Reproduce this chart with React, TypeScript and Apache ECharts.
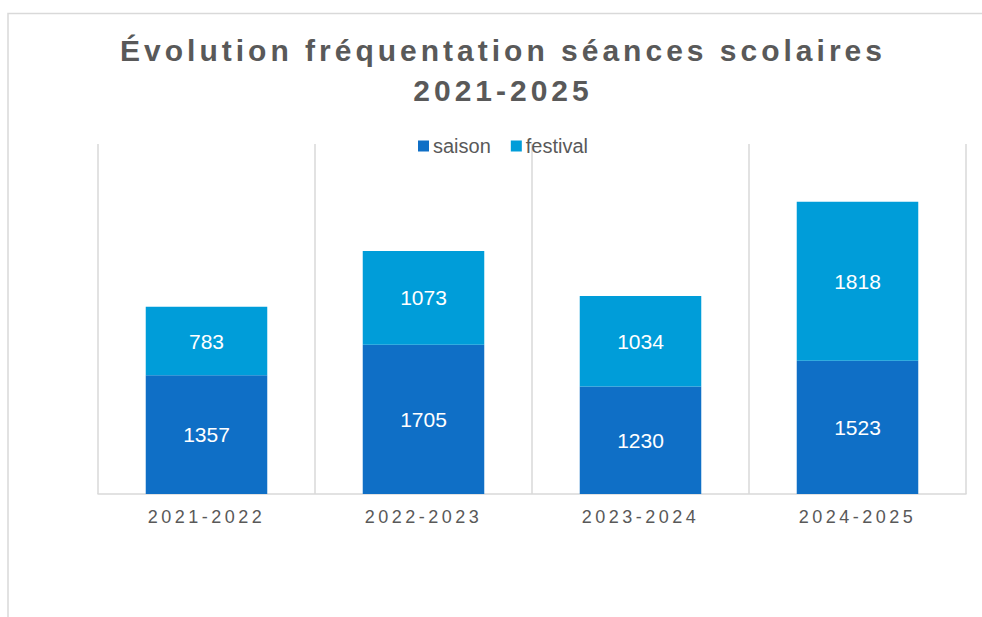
import React, { useEffect, useRef } from "react";
import * as echarts from "echarts";

const TITLE_LINE_1 = "Évolution fréquentation séances scolaires";
const TITLE_LINE_2 = "2021-2025";
const categories = ["2021-2022", "2022-2023", "2023-2024", "2024-2025"];
const seriesNames = ["saison", "festival"];
const saison = [1357, 1705, 1230, 1523];
const festival = [783, 1073, 1034, 1818];

const COLORS = ["#0F6FC6", "#009DD9"];
const GRAY = "#595959";
const LINE = "#D9D9D9";

export default function App() {
  const ref = useRef<HTMLDivElement>(null);

  useEffect(() => {
    const el = ref.current!;
    const chart = echarts.init(el, null, { renderer: "svg" });

    const applySpacing = () => {
      el.querySelectorAll("text").forEach((t) => {
        const s = t.textContent || "";
        if (s.includes(TITLE_LINE_1) || s === TITLE_LINE_2) {
          t.setAttribute("letter-spacing", "4");
        } else if (categories.includes(s)) {
          t.setAttribute("letter-spacing", "3.5");
        }
      });
    };

    const labelStyle = {
      show: true,
      position: "inside" as const,
      color: "#FFFFFF",
      fontSize: 21,
      fontFamily: "Liberation Sans, Arial, sans-serif",
    };

    chart.setOption({
      animation: false,
      backgroundColor: "#FFFFFF",
      graphic: [
        {
          type: "rect",
          silent: true,
          shape: { x: 8, y: 13.5, width: 2000, height: 2000 },
          style: { fill: "none", stroke: LINE, lineWidth: 1.5 },
        },
        {
          type: "text",
          x: 503,
          y: 30,
          style: {
            text: TITLE_LINE_1 + "\n" + TITLE_LINE_2,
            textAlign: "center",
            textVerticalAlign: "top",
            font: "bold 30px 'Liberation Sans', Arial, sans-serif",
            lineHeight: 40,
            fill: GRAY,
          },
        },
      ],
      legend: {
        data: seriesNames,
        left: 418,
        top: 136,
        padding: 0,
        itemWidth: 11,
        itemHeight: 11,
        itemGap: 20,
        icon: "rect",
        textStyle: {
          color: GRAY,
          fontSize: 20,
          fontFamily: "Liberation Sans, Arial, sans-serif",
          padding: [0, 0, 0, -1],
        },
      },
      grid: { left: 98, right: 16, top: 144, bottom: 123 },
      xAxis: {
        type: "category",
        data: categories,
        boundaryGap: true,
        axisLine: { show: true, lineStyle: { color: LINE, width: 1.5 } },
        axisTick: { show: false },
        splitLine: { show: true, lineStyle: { color: LINE, width: 1.5 } },
        axisLabel: {
          color: GRAY,
          fontSize: 18,
          margin: 14,
          fontFamily: "Liberation Sans, Arial, sans-serif",
        },
      },
      yAxis: {
        type: "value",
        min: 0,
        max: 4000,
        show: false,
        splitLine: { show: false },
      },
      series: [
        {
          name: seriesNames[0],
          type: "bar",
          stack: "total",
          data: saison,
          barWidth: "56%",
          itemStyle: { color: COLORS[0] },
          label: labelStyle,
        },
        {
          name: seriesNames[1],
          type: "bar",
          stack: "total",
          data: festival,
          barWidth: "56%",
          itemStyle: { color: COLORS[1] },
          label: labelStyle,
        },
      ],
    });

    applySpacing();
    chart.on("finished", applySpacing);

    return () => {
      chart.dispose();
    };
  }, []);

  return (
    <div
      ref={ref}
      style={{ position: "absolute", left: 0, top: 0, width: 982, height: 617 }}
    />
  );
}
